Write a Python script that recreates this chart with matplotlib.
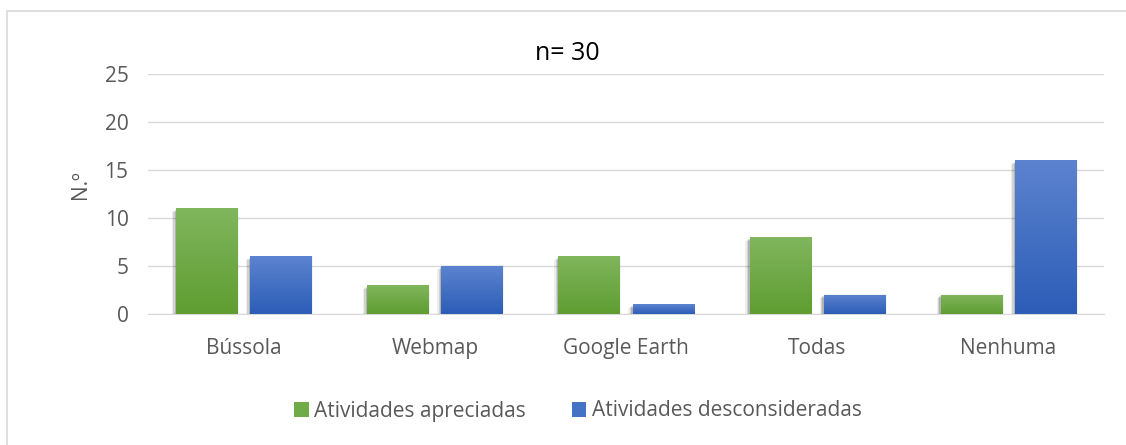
import numpy as np
import matplotlib.pyplot as plt
import matplotlib.patheffects as pe
from matplotlib.patches import Patch
from matplotlib.colors import LinearSegmentedColormap
from matplotlib.lines import Line2D

categorias = ['Bússola', 'Webmap', 'Google Earth', 'Todas', 'Nenhuma']
apreciadas = [11, 3, 6, 8, 2]
desconsideradas = [6, 5, 1, 2, 16]
yticks = [0, 5, 10, 15, 20, 25]

plt.rcParams['font.family'] = ['Open Sans', 'DejaVu Sans']
cinza = '#595959'

fig = plt.figure(figsize=(11.26, 4.45), dpi=100)
ax = fig.add_axes([148 / 1126, 1 - 314 / 445, 956 / 1126, 240 / 445])

x = np.arange(len(categorias))
w = 0.32
off = 0.194
grad = np.linspace(0, 1, 256).reshape(-1, 1)

# sombra suave (varias camadas)
sombra = [
    pe.SimplePatchShadow(offset=(-3.0, -2.5), shadow_rgbFace='#000000', alpha=0.07),
    pe.SimplePatchShadow(offset=(-2.0, -1.8), shadow_rgbFace='#000000', alpha=0.11),
    pe.SimplePatchShadow(offset=(-1.0, -1.0), shadow_rgbFace='#000000', alpha=0.15),
    pe.SimplePatchShadow(offset=(1.2, 0.5), shadow_rgbFace='#000000', alpha=0.05),
    pe.Normal(),
]


def barras(xpos, vals, topo, base):
    cmap = LinearSegmentedColormap.from_list('grad', [base, topo])
    bars = ax.bar(xpos, vals, w, color=base, zorder=3, linewidth=0)
    for b in bars:
        b.set_path_effects(sombra)
        x0, bw, bh = b.get_x(), b.get_width(), b.get_height()
        im = ax.imshow(grad, extent=[x0, x0 + bw, 0, bh], origin='lower',
                       cmap=cmap, aspect='auto', zorder=4, interpolation='bilinear')
        im.set_clip_path(b)
    return bars


barras(x - off, apreciadas, '#80b65d', '#5f9d31')
barras(x + off, desconsideradas, '#5c83cf', '#2c5db7')

ax.set_xlim(-0.5, len(categorias) - 0.5)
ax.set_ylim(0, 25)
ax.set_yticks(yticks)
ax.set_xticks(x)
ax.set_xticklabels(categorias)
ax.set_axisbelow(True)
ax.yaxis.grid(True, color='#d9d9d9', linewidth=1)
for s in ['top', 'right', 'left']:
    ax.spines[s].set_visible(False)
ax.spines['bottom'].set_color('#d9d9d9')
ax.tick_params(axis='both', length=0, colors=cinza, labelsize=15)
ax.tick_params(axis='y', pad=14)
ax.tick_params(axis='x', pad=17)

fig.text(80 / 1126, 1 - 185 / 445, 'N.º', rotation=90, ha='center', va='center',
         color=cinza, fontsize=15)
fig.text(567 / 1126, 1 - 53 / 445, 'n= 30', ha='center', va='center',
         color='black', fontsize=18)

handles = [Patch(facecolor='#6fab47', label='Atividades apreciadas'),
           Patch(facecolor='#4472c4', label='Atividades desconsideradas')]
fig.legend(handles=handles, loc='center', bbox_to_anchor=(578 / 1126, 1 - 411 / 445),
           ncol=2, frameon=False, fontsize=15, labelcolor=cinza,
           handlelength=0.7, handleheight=0.7, handletextpad=0.25, columnspacing=2.2)

# moldura do grafico
fig.add_artist(Line2D([7 / 1126, 7 / 1126, 1], [0, 1 - 11 / 445, 1 - 11 / 445],
                      transform=fig.transFigure, color='#d9d9d9', linewidth=1.2))

fig.savefig('out.png', dpi=100)
